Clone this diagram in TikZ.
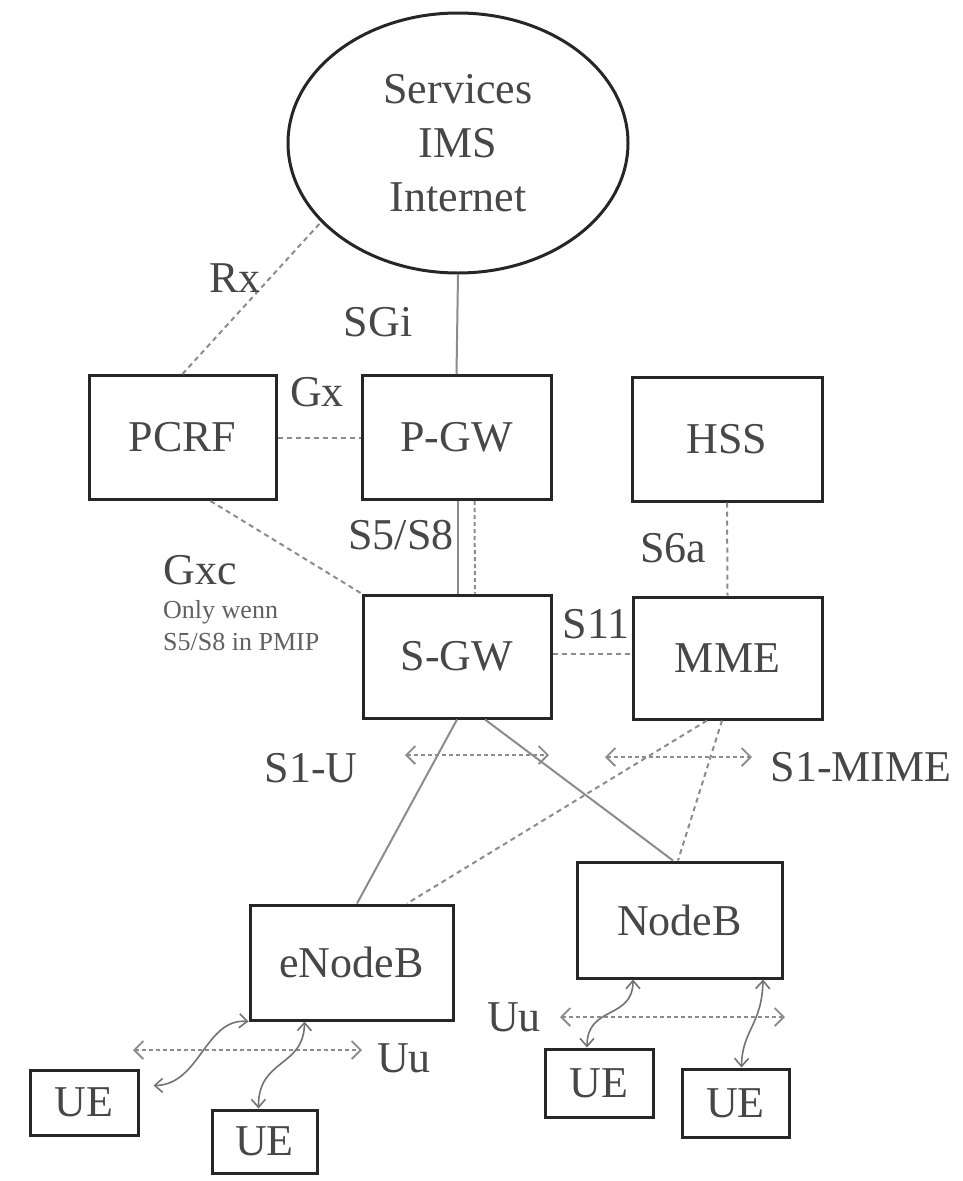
\documentclass[tikz,border=0pt]{standalone}
\usepackage{fontspec}
\setmainfont{Liberation Serif}
\usetikzlibrary{arrows.meta,shapes.geometric}
\begin{document}
\begin{tikzpicture}[x=1pt,y=-1pt,
  box/.style={draw=black!85,line width=3pt,rectangle,inner sep=0pt,
    font=\fontsize{44}{50}\selectfont,text=black!72},
  lbl/.style={font=\fontsize{44}{50}\selectfont,text=black!72,inner sep=0pt},
  note/.style={font=\fontsize{26}{30}\selectfont,text=black!62,inner sep=0pt,anchor=west},
  link/.style={draw=black!45,line width=2pt},
  dlink/.style={link,dash pattern=on 5pt off 4pt},
  radio/.style={draw=black!55,line width=1.6pt,
    {Straight Barb[length=8pt,width=14pt]}-{Straight Barb[length=8pt,width=14pt]}},
  iface/.style={draw=black!45,line width=1.8pt,dash pattern=on 4pt off 3pt,
    {Straight Barb[length=9pt,width=18pt]}-{Straight Barb[length=9pt,width=18pt]}},
]
\useasboundingbox[fill=white] (0,0) rectangle (963,1181);

% service cloud
\node[draw=black!85,line width=3pt,ellipse,minimum width=340pt,minimum height=260pt,
  inner sep=0pt,align=center,font=\fontsize{44}{54}\selectfont,text=black!72]
  (svc) at (458,143) {Services\\IMS\\Internet};

% core network elements
\node[box,minimum width=187pt,minimum height=124pt] (pcrf) at (182.5,437.5) {PCRF};
\node[box,minimum width=189pt,minimum height=124pt] (pgw)  at (456.5,437.5) {P-GW};
\node[box,minimum width=190pt,minimum height=124pt] (hss)  at (727,439) {HSS};
\node[box,minimum width=188pt,minimum height=123pt] (sgw)  at (457,656.5) {S-GW};
\node[box,minimum width=189pt,minimum height=122pt] (mme)  at (727.5,658) {MME};

% radio access
\node[box,minimum width=203pt,minimum height=115pt] (enb) at (351.5,962.5) {eNodeB};
\node[box,minimum width=205pt,minimum height=116pt] (nb)  at (679.5,920) {NodeB};

% terminals
\node[box,minimum width=108pt,minimum height=65pt] (ue1) at (84,1102.5) {UE};
\node[box,minimum width=105pt,minimum height=63pt] (ue2) at (264.5,1141.5) {UE};
\node[box,minimum width=108pt,minimum height=68pt] (ue3) at (599,1083) {UE};
\node[box,minimum width=107pt,minimum height=68pt] (ue4) at (735.5,1103) {UE};

% core interfaces
\draw[dlink] (pcrf.north) -- (svc.210);
\draw[link] (svc.south) -- (pgw.north);
\draw[dlink] (pcrf.east) -- (pgw.west);
\draw[link] ([xshift=1.5pt]pgw.south) -- ([xshift=1pt]sgw.north);
\draw[link,dash pattern=on 4pt off 3pt] ([xshift=18pt]pgw.south) -- ([xshift=18pt]sgw.north);
\draw[dlink] ([xshift=28pt]pcrf.south) -- (sgw.north west);
\draw[dlink] (hss.south) -- (mme.north);
\draw[dlink] ([yshift=3pt]sgw.east) -- ([yshift=3pt]sgw.east -| mme.west);

% S1 links
\draw[link] (sgw.south) -- ([xshift=5.5pt]enb.north);
\draw[link] ([xshift=28pt]sgw.south) -- ([xshift=-6.5pt]nb.north);
\draw[dlink] ([xshift=-20.5pt]mme.south) -- ([xshift=55.5pt]enb.north);
\draw[dlink] ([xshift=-5.5pt]mme.south) -- ([xshift=-1.5pt]nb.north);

% interface arrows
\coordinate (s1ua) at (405,755);
\coordinate (s1ub) at (549,755);
\coordinate (s1ma) at (605,757);
\coordinate (s1mb) at (752,757);
\coordinate (uuea) at (133,1050);
\coordinate (uueb) at (362,1050);
\coordinate (uuna) at (560,1017);
\coordinate (uunb) at (785,1017);
\draw[iface] (s1ua) -- (s1ub);
\draw[iface] (s1ma) -- (s1mb);
\draw[iface] (uuea) -- (uueb);
\draw[iface] (uuna) -- (uunb);

% radio links to the terminals
\draw[radio] (enb.south west) .. controls (205,1018) and (200,1085) .. ([xshift=14pt,yshift=17pt]ue1.east);
\draw[radio] ([xshift=-47pt]enb.south) .. controls (304,1068) and (258,1058) .. ([xshift=-6pt]ue2.north);
\draw[radio] ([xshift=-46.5pt]nb.south) .. controls (633,1020) and (587,1005) .. ([xshift=-12pt]ue3.north);
\draw[radio] ([xshift=83.5pt]nb.south) .. controls (762,1025) and (742,1030) .. ([xshift=6pt]ue4.north);

% interface labels
\node[lbl] (lrx)   at (235,278) {Rx};
\node[lbl] (lsgi)  at (378,322) {SGi};
\node[lbl] (lgx)   at (317,392) {Gx};
\node[lbl] (ls5)   at (401,535) {S5/S8};
\node[lbl] (ls6a)  at (673,548) {S6a};
\node[lbl] (lgxc)  at (200,570) {Gxc};
\node[note] (lonly) at (163,612) {Only wenn};
\node[note] (lpmip) at (163,642) {S5/S8 in PMIP};
\node[lbl] (ls11)  at (596,624) {S11};
\node[lbl] (ls1u)  at (311,768) {S1-U};
\node[lbl] (ls1m)  at (861,767) {S1-MIME};
\node[lbl] (luue)  at (404,1058) {Uu};
\node[lbl] (luun)  at (514,1017) {Uu};
\end{tikzpicture}
\end{document}
